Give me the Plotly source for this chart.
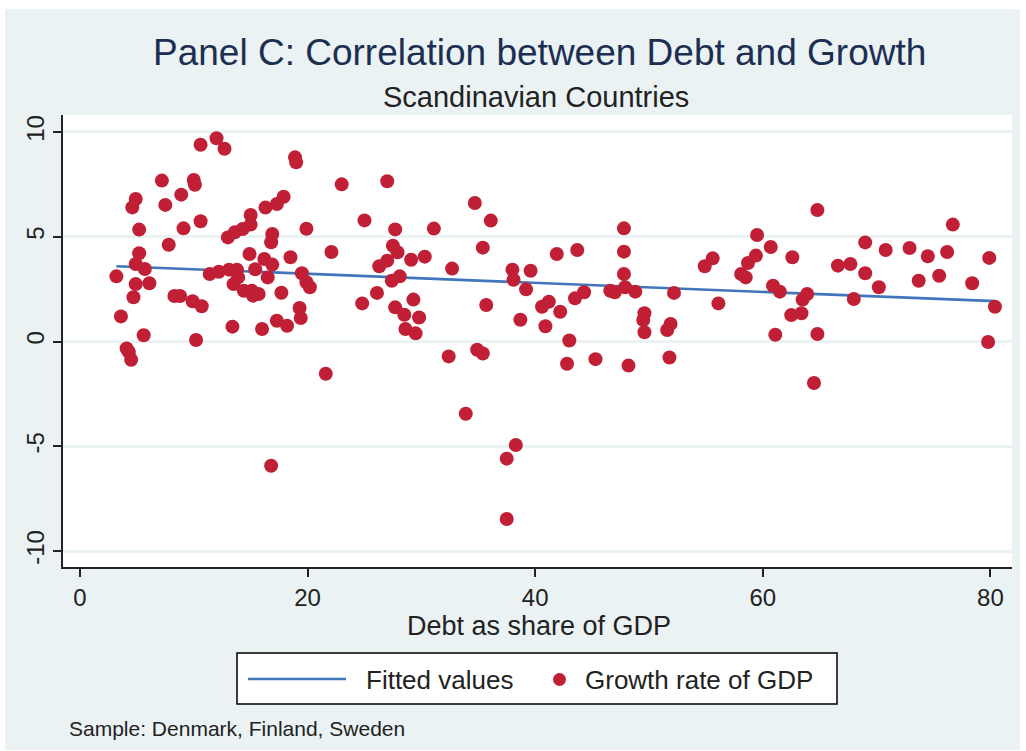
import numpy as np
import plotly.graph_objects as go

# Debt as share of GDP (x) and growth rate of GDP (y), Denmark, Finland, Sweden
debt = [
    3.2, 3.6, 4.1, 4.3, 4.5, 4.6, 4.9, 4.9, 4.9, 4.7,
    5.2, 5.2, 5.7, 6.1, 5.6, 7.2, 7.5, 7.8, 8.3, 8.8,
    8.9, 9.1, 9.9, 10.0, 10.1, 10.2, 10.6, 10.6, 10.7, 11.4,
    12.0, 12.2, 12.7, 13.0, 13.1, 13.4, 13.5, 13.6, 13.8, 13.9,
    14.3, 14.4, 14.9, 15.0, 15.0, 15.1, 15.2, 15.4, 15.7, 16.0,
    16.2, 16.3, 16.5, 16.8, 16.8, 16.9, 16.9, 17.3, 17.3, 17.7,
    17.9, 18.2, 18.5, 18.9, 19.0, 19.3, 19.4, 19.5, 19.9, 19.9,
    20.2, 21.6, 22.1, 23.0, 24.8, 25.0, 26.1, 26.3, 27.0, 27.0,
    27.4, 27.5, 27.7, 27.7, 27.9, 28.1, 28.5, 28.6, 29.1, 29.3,
    29.5, 29.8, 30.3, 31.1, 32.4, 32.7, 33.9, 34.7, 34.9, 35.4,
    35.4, 35.7, 36.1, 37.5, 37.5, 38.0, 38.1, 38.3, 38.7, 39.2,
    39.6, 40.6, 40.9, 41.2, 41.9, 42.2, 42.8, 43.0, 43.5, 43.7,
    44.3, 45.3, 46.6, 47.0, 47.8, 47.8, 47.8, 47.9, 48.2, 48.8,
    49.5, 49.6, 49.6, 51.6, 51.8, 51.9, 52.2, 54.9, 55.6, 56.1,
    58.1, 58.5, 58.7, 59.4, 59.5, 60.7, 60.9, 61.1, 61.5, 62.5,
    62.6, 63.4, 63.5, 63.9, 64.5, 64.8, 64.8, 66.6, 67.7, 68.0,
    69.0, 69.0, 70.2, 70.8, 72.9, 73.7, 74.5, 75.5, 76.2, 76.7,
    78.4, 79.8, 79.9, 80.4,
]
growth = [
    3.11, 1.20, -0.33, -0.50, -0.87, 6.40, 6.80, 3.70, 2.74, 2.11,
    5.34, 4.21, 3.46, 2.78, 0.30, 7.68, 6.52, 4.62, 2.17, 2.17,
    7.01, 5.40, 1.92, 7.71, 7.48, 0.07, 9.39, 5.74, 1.68, 3.22,
    9.70, 3.33, 9.20, 4.97, 3.43, 0.71, 2.74, 5.21, 3.43, 3.06,
    5.37, 2.42, 4.18, 6.04, 5.58, 2.42, 2.19, 3.45, 2.27, 0.60,
    3.94, 6.39, 3.06, -5.93, 4.74, 5.13, 3.67, 6.56, 0.99, 2.33,
    6.91, 0.75, 4.02, 8.79, 8.55, 1.60, 1.12, 3.26, 5.38, 2.83,
    2.59, -1.54, 4.27, 7.50, 1.82, 5.78, 2.32, 3.59, 7.65, 3.86,
    2.90, 4.57, 5.35, 1.63, 4.26, 3.11, 1.28, 0.60, 3.90, 2.00,
    0.39, 1.15, 4.05, 5.39, -0.71, 3.48, -3.45, 6.61, -0.39, -0.57,
    4.48, 1.74, 5.77, -5.59, -8.47, 3.43, 2.95, -4.94, 1.04, 2.49,
    3.38, 1.66, 0.73, 1.90, 4.18, 1.42, -1.06, 0.05, 2.06, 4.37,
    2.35, -0.84, 2.42, 2.35, 5.40, 4.29, 3.22, 2.59, -1.15, 2.38,
    1.03, 1.35, 0.44, 0.55, -0.76, 0.84, 2.32, 3.59, 3.97, 1.82,
    3.22, 3.06, 3.75, 4.10, 5.08, 4.51, 2.66, 0.32, 2.38, 1.26,
    4.02, 1.35, 2.00, 2.27, -1.98, 6.28, 0.36, 3.62, 3.70, 2.03,
    4.73, 3.26, 2.59, 4.37, 4.46, 2.90, 4.07, 3.14, 4.27, 5.58,
    2.78, -0.02, 3.99, 1.66,
]

x_ticks = [0, 20, 40, 60, 80]
y_ticks = [-10, -5, 0, 5, 10]

# Linear fit of growth on debt, drawn across the observed debt range
slope, intercept = np.polyfit(debt, growth, 1)
fit_x = [min(debt), max(debt)]
fit_y = [intercept + slope * v for v in fit_x]

W, H = 1026, 751
ML, MR, MT, MB = 63, 14, 115, 184
PW, PH = W - ML - MR, H - MT - MB

def px(xp):
    return (xp - ML) / PW

def py(yp):
    return (H - MB - yp) / PH

BG = "#EAF2F3"
NAVY = "#1C2E52"
BLUE = "#4176BC"
RED = "#C11F36"
FONT = "Liberation Sans, Arial, sans-serif"

fig = go.Figure()
fig.add_trace(go.Scatter(
    x=fit_x, y=fit_y, mode="lines", name="Fitted values",
    line=dict(color=BLUE, width=2.6), showlegend=False,
))
fig.add_trace(go.Scatter(
    x=debt, y=growth, mode="markers", name="Growth rate of GDP",
    marker=dict(color=RED, size=14, line=dict(width=0)), showlegend=False,
))

shapes = [
    # graph region background
    dict(type="rect", xref="paper", yref="paper", layer="below",
         x0=px(5), x1=px(1020), y0=py(750), y1=py(9),
         fillcolor=BG, line=dict(width=0)),
    # plot region
    dict(type="rect", xref="paper", yref="paper", layer="below",
         x0=0, x1=1, y0=0, y1=1, fillcolor="white", line=dict(width=0)),
    # legend box
    dict(type="rect", xref="paper", yref="paper",
         x0=px(237), x1=px(837), y0=py(704), y1=py(653),
         fillcolor="white", line=dict(color="black", width=1.5)),
    # legend key: fitted line
    dict(type="line", xref="paper", yref="paper",
         x0=px(248), x1=px(346), y0=py(679), y1=py(679),
         line=dict(color=BLUE, width=2.6)),
    # legend key: marker
    dict(type="circle", xref="paper", yref="paper",
         x0=px(553), x1=px(566), y0=py(686), y1=py(673),
         fillcolor=RED, line=dict(width=0)),
]

annotations = [
    dict(text="Panel C: Correlation between Debt and Growth", x=px(539), y=py(52),
         font=dict(size=37, color=NAVY, family=FONT)),
    dict(text="Scandinavian Countries", x=px(536), y=py(97),
         font=dict(size=29, color="#222222", family=FONT)),
    dict(text="Debt as share of GDP", x=px(539), y=py(626),
         font=dict(size=27, color="#222222", family=FONT)),
    dict(text="Fitted values", x=px(364), y=py(680), xanchor="left",
         font=dict(size=26, color="#222222", family=FONT)),
    dict(text="Growth rate of GDP", x=px(583), y=py(680), xanchor="left",
         font=dict(size=26, color="#222222", family=FONT)),
    dict(text="Sample: Denmark, Finland, Sweden", x=px(67), y=py(728), xanchor="left",
         font=dict(size=21, color="#222222", family=FONT)),
]
for a in annotations:
    a.update(xref="paper", yref="paper", showarrow=False)
    a.setdefault("xanchor", "center")
    a["yanchor"] = "middle"

fig.update_layout(
    width=W, height=H,
    margin=dict(l=ML, r=MR, t=MT, b=MB, pad=0),
    paper_bgcolor="white",
    plot_bgcolor="rgba(0,0,0,0)",
    font=dict(family=FONT, size=24, color="#222222"),
    showlegend=False,
    shapes=shapes,
    annotations=annotations,
    xaxis=dict(
        range=[-1.49, 81.9], tickvals=x_ticks, ticktext=[str(v) for v in x_ticks],
        showgrid=False, zeroline=False, showline=True, linecolor="#222222", linewidth=1.5,
        ticks="outside", ticklen=8, tickwidth=1.5, tickcolor="#222222",
        tickfont=dict(size=24, color="#222222"),
    ),
    yaxis=dict(
        range=[-10.76, 10.81], tickvals=y_ticks, ticktext=[str(v) for v in y_ticks],
        showgrid=True, gridcolor=BG, gridwidth=2.5, zeroline=False,
        showline=True, linecolor="#222222", linewidth=1.5,
        ticks="outside", ticklen=8, tickwidth=1.5, tickcolor="#222222",
        tickangle=-90, tickfont=dict(size=24, color="#222222"),
    ),
)

fig.write_html("out.html")
